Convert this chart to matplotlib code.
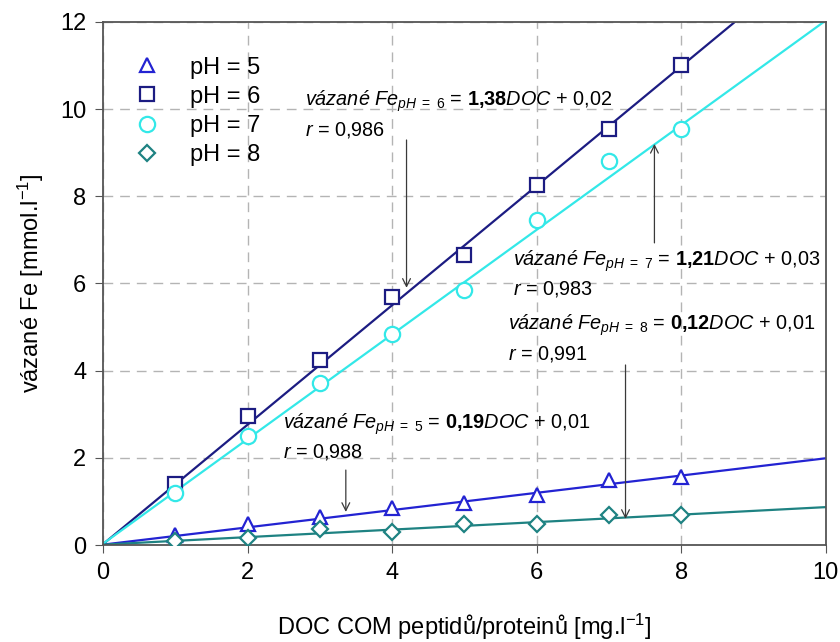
import numpy as np
import matplotlib.pyplot as plt

plt.rcParams['font.family'] = ['Liberation Sans', 'DejaVu Sans']
plt.rcParams['mathtext.fontset'] = 'custom'
plt.rcParams['mathtext.rm'] = 'Liberation Sans'
plt.rcParams['mathtext.it'] = 'Liberation Sans:italic'
plt.rcParams['mathtext.bf'] = 'Liberation Sans:bold'

# measured points
doc = [1, 2, 3, 4, 5, 6, 7, 8]
fe_ph5 = [0.23, 0.48, 0.65, 0.85, 0.96, 1.15, 1.49, 1.57]
fe_ph6 = [1.40, 2.95, 4.25, 5.70, 6.65, 8.25, 9.55, 11.02]
fe_ph7 = [1.20, 2.50, 3.72, 4.85, 5.85, 7.45, 8.80, 9.55]
fe_ph8 = [0.10, 0.16, 0.36, 0.30, 0.48, 0.48, 0.69, 0.69]

# fitted lines as drawn (slope, intercept)
fit_ph5 = (0.198, 0.01)
fit_ph6 = (1.37, 0.02)
fit_ph7 = (1.20, 0.03)
fit_ph8 = (0.086, 0.01)

labels = ['pH = 5', 'pH = 6', 'pH = 7', 'pH = 8']
colors = ['#2323d2', '#1c1c82', '#33e8e8', '#1e8282']
markers = ['^', 's', 'o', 'D']
marker_sizes = [9.5, 10, 11, 8.5]

# equation annotations: text, r text, text pos, arrow start, arrow end
eq_text = [
    r'$\mathit{vázané\ Fe}_{\mathit{pH\ =\ 5}}$ = $\mathbf{0{,}19}\mathit{DOC}$ + 0,01',
    r'$\mathit{vázané\ Fe}_{\mathit{pH\ =\ 6}}$ = $\mathbf{1{,}38}\mathit{DOC}$ + 0,02',
    r'$\mathit{vázané\ Fe}_{\mathit{pH\ =\ 7}}$ = $\mathbf{1{,}21}\mathit{DOC}$ + 0,03',
    r'$\mathit{vázané\ Fe}_{\mathit{pH\ =\ 8}}$ = $\mathbf{0{,}12}\mathit{DOC}$ + 0,01',
]
r_text = [r'$\mathit{r}$ = 0,988', r'$\mathit{r}$ = 0,986',
          r'$\mathit{r}$ = 0,983', r'$\mathit{r}$ = 0,991']
eq_pos = [(2.49, 2.78), (2.79, 10.17), (5.67, 6.52), (5.6, 5.03)]
arrow_from = [(3.36, 1.72), (4.2, 9.29), (7.63, 6.93), (7.23, 4.13)]
arrow_to = [(3.36, 0.76), (4.2, 5.9), (7.63, 9.2), (7.23, 0.6)]

fig = plt.figure(figsize=(8.4, 6.42), dpi=100)
ax = fig.add_axes([0.1226, 0.151, 0.8604, 0.815])

xs = np.array([0, 10])
for fit, c in zip([fit_ph5, fit_ph6, fit_ph7, fit_ph8], colors):
    ax.plot(xs, fit[0] * xs + fit[1], color=c, lw=1.6, zorder=2)

for ys, lab, c, m, ms in zip([fe_ph5, fe_ph6, fe_ph7, fe_ph8], labels, colors, markers, marker_sizes):
    ax.plot(doc, ys, ls='none', marker=m, ms=ms, mfc='white', mec=c, mew=1.6,
            label=lab, zorder=3)

for t, r, p, a0, a1 in zip(eq_text, r_text, eq_pos, arrow_from, arrow_to):
    ax.text(p[0], p[1], t, fontsize=14.3, va='center', ha='left', zorder=4)
    ax.text(p[0], p[1] - 0.65, r, fontsize=14.3, va='center', ha='left', zorder=4)
    ax.annotate('', xy=a1, xytext=a0,
                arrowprops=dict(arrowstyle='->', color='#3a3a3a', lw=0.9,
                                shrinkA=0, shrinkB=0, mutation_scale=14))

ax.set_xlim(0, 10)
ax.set_ylim(0, 12)
ax.set_xticks(np.arange(0, 11, 2))
ax.set_yticks(np.arange(0, 13, 2))
ax.tick_params(labelsize=17, direction='out', length=6, color='#555555', pad=6)
ax.grid(True, color='#b4b4b4', ls=(0, (7, 5)), lw=1)
ax.set_axisbelow(True)
for s in ax.spines.values():
    s.set_color('#555555')
    s.set_linewidth(1.3)

ax.set_xlabel(r'DOC COM peptidů/proteinů [mg.l$^{\mathregular{-1}}$]', fontsize=17, labelpad=20)
ax.set_ylabel(r'vázané Fe [mmol.l$^{\mathregular{-1}}$]', fontsize=17, labelpad=10)

ax.legend(loc='upper left', bbox_to_anchor=(0.022, 0.965), frameon=False, fontsize=17,
          handlelength=1.0, handletextpad=1.3, labelspacing=0.3, borderaxespad=0.3)

fig.savefig('out.png', dpi=100)
